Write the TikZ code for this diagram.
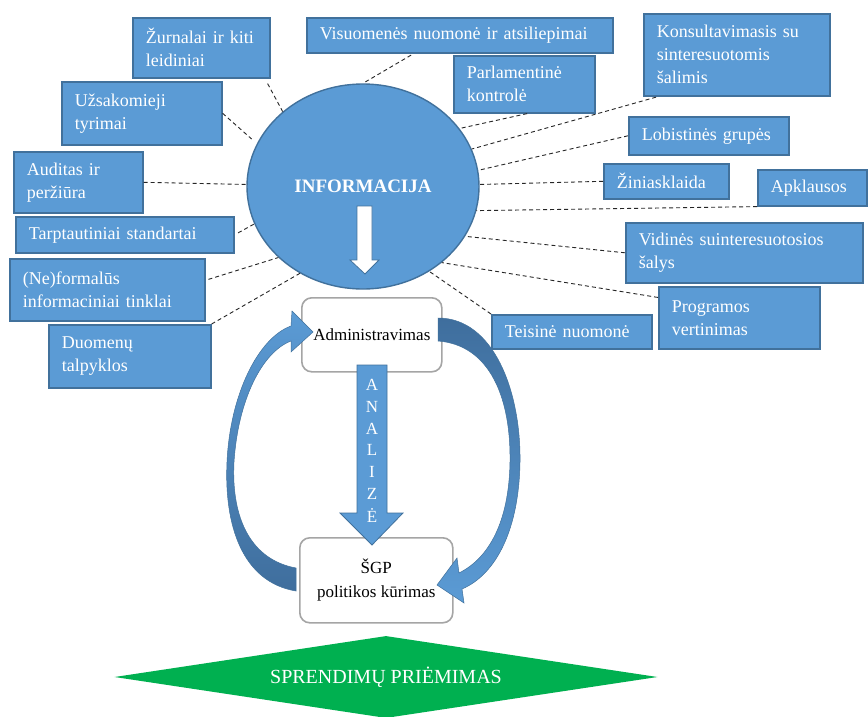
\documentclass[tikz,border=0pt]{standalone}
\usepackage{fontspec}
\setmainfont{Liberation Serif}
\usetikzlibrary{shapes.geometric,calc}

\definecolor{boxblue}{HTML}{5B9BD5}
\definecolor{edgeblue}{HTML}{41719C}
\definecolor{bandblue}{HTML}{3F6E9D}
\definecolor{decgreen}{HTML}{00B050}
\definecolor{framegray}{HTML}{A5A5A5}

\tikzset{
  srcbox/.style={draw=edgeblue, line width=1.6pt, fill=boxblue, text=white,
    anchor=north west, inner xsep=13pt, inner ysep=0pt, align=left,
    font=\fontsize{18}{23}\selectfont},
  link/.style={dash pattern=on 4pt off 3pt, line width=0.9pt, black!85},
  stage/.style={draw=framegray, line width=1.6pt, fill=white, rounded corners=10pt,
    text=black, inner sep=0pt, anchor=north west, align=center,
    font=\fontsize{17}{24}\selectfont},
  blockarrow/.style={fill=boxblue, draw=edgeblue, line width=0.8pt},
  letter/.style={text=white, inner sep=0pt, font=\fontsize{17}{17}\selectfont},
}

\begin{document}
\begin{tikzpicture}[x=1pt, y=-1pt]
\fill[white] (0,0) rectangle (868,717);
\useasboundingbox (0,0) rectangle (868,717);

% central information source
\node[ellipse, fill=boxblue, draw=edgeblue, line width=1.4pt, minimum width=232pt,
  minimum height=205pt, inner sep=0pt, text=white,
  font=\bfseries\fontsize{19}{23}\selectfont] (info) at (363,186.5) {INFORMACIJA};
\draw[fill=white, draw=edgeblue, line width=0.8pt]
  (357,206) -- (372,206) -- (372,260) -- (379,260) -- (365,274) -- (350,260) -- (357,260) -- cycle;

% sources, left side
\node[srcbox, minimum width=137pt, minimum height=60pt, text width=111pt] (zurnal) at (132,17) {Žurnalai ir kiti\\leidiniai};
\node[srcbox, minimum width=160pt, minimum height=63pt, text width=134pt] (uzsak) at (61,81) {Užsakomieji\\tyrimai};
\node[srcbox, minimum width=129pt, minimum height=61pt, text width=103pt] (audit) at (13,151) {Auditas ir\\peržiūra};
\node[srcbox, minimum width=218pt, minimum height=36pt, text width=192pt] (tarpt) at (15,216) {Tarptautiniai standartai};
\node[srcbox, minimum width=195pt, minimum height=62pt, text width=169pt] (neform) at (9,258) {(Ne)formalūs\\informaciniai tinklai};
\node[srcbox, minimum width=162pt, minimum height=63pt, text width=136pt] (duom) at (48,324) {Duomenų\\talpyklos};

% sources, top and right side
\node[srcbox, minimum width=306pt, minimum height=35pt, text width=280pt] (visuom) at (306,17) {Visuomenės nuomonė ir atsiliepimai};
\node[srcbox, minimum width=141pt, minimum height=57pt, text width=115pt] (parlam) at (453,55) {Parlamentinė\\kontrolė};
\node[srcbox, minimum width=186pt, minimum height=82pt, text width=160pt] (konsult) at (643,13) {Konsultavimasis su\\sinteresuotomis\\šalimis};
\node[srcbox, minimum width=160pt, minimum height=38pt, text width=134pt] (lobist) at (628,116) {Lobistinės grupės};
\node[srcbox, minimum width=125pt, minimum height=35pt, text width=99pt] (zinias) at (603,163) {Žiniasklaida};
\node[srcbox, minimum width=109pt, minimum height=36pt, text width=83pt] (apkl) at (757,169) {Apklausos};
\node[srcbox, minimum width=237pt, minimum height=60pt, text width=211pt] (vidin) at (625,222) {Vidinės suinteresuotosios\\šalys};
\node[srcbox, minimum width=161pt, minimum height=62pt, text width=135pt] (progr) at (658,286) {Programos\\vertinimas};
\node[srcbox, minimum width=160pt, minimum height=34pt, text width=134pt] (teis) at (491,314) {Teisinė nuomonė};

% dashed links to the information ellipse
\draw[link] ($(zurnal.south east)+(-3,5)$) -- (info.137);
\draw[link, shorten >=7pt] (uzsak.east) -- (info.158.5);
\draw[link] (audit.east) -- (info.179);
\draw[link, shorten <=4pt] (tarpt.east) -- (info.199.5);
\draw[link, shorten <=3pt] ($(neform.north east)!0.35!(neform.south east)$) -- (info.220);
\draw[link] (duom.north east) -- (info.234);
\draw[link, shorten <=3pt] ($(visuom.south west)!0.35!(visuom.south east)$) -- (info.90);
\draw[link] ($(parlam.south west)!0.52!(parlam.south east)$) -- (info.31.6);
\draw[link, shorten <=2pt] ($(konsult.south west)!0.08!(konsult.south east)$) -- (info.19);
\draw[link] (lobist.west) -- (info.8.7);
\draw[link] (zinias.west) -- (info.1);
\draw[link] (apkl.south west) -- (info.-12);
\draw[link] (vidin.west) -- (info.-26.6);
\draw[link] ($(progr.north west)!0.18!(progr.south west)$) -- (info.-44.8);
\draw[link] (teis.north west) -- (info.-52.8);

% process stages
\node[stage, minimum width=140pt, minimum height=74pt] (admin) at (301,297) {Administravimas};
\node[stage, minimum width=153pt, minimum height=85pt] (sgp) at (299,537) {ŠGP\\politikos kūrimas};

% analysis arrow between the stages
\draw[blockarrow] (357,365) -- (387,365) -- (387,513) -- (403,513) -- (372,545)
  -- (340,513) -- (357,513) -- cycle;
\foreach \ch [count=\i] in {A,N,A,L,I,Z,Ė}
  \node[letter] (an\i) at (372,{363.3+21.7*\i}) {\ch};

% feedback loop: policy making back to administration
\shadedraw[top color=boxblue, bottom color=bandblue, draw=edgeblue, line width=0.5pt]
  (296,591) .. controls (242,582) and (224,525) .. (227,462)
  .. controls (230,395) and (258,338) .. (291,326)
  -- (292,311) -- (313,332) -- (291,352) -- (291,341)
  .. controls (262,352) and (238,400) .. (234,462)
  .. controls (231,520) and (252,560) .. (296,568) -- cycle;

% administration down to policy making
\shadedraw[top color=bandblue, bottom color=boxblue, draw=edgeblue, line width=0.5pt]
  (438,318) .. controls (494,318) and (521,392) .. (520,462)
  .. controls (519,528) and (497,574) .. (462,589)
  -- (464,603) -- (437,585) -- (457,558) -- (459,573)
  .. controls (489,558) and (509,522) .. (510,462)
  .. controls (511,398) and (490,345) .. (438,341) -- cycle;

% decision making
\node[diamond, fill=decgreen, shape aspect=6.6, minimum width=543pt, minimum height=82pt,
  inner sep=0pt, text=white, font=\fontsize{20}{24}\selectfont] (decision) at (386,677)
  {SPRENDIMŲ PRIĖMIMAS};
\end{tikzpicture}
\end{document}
